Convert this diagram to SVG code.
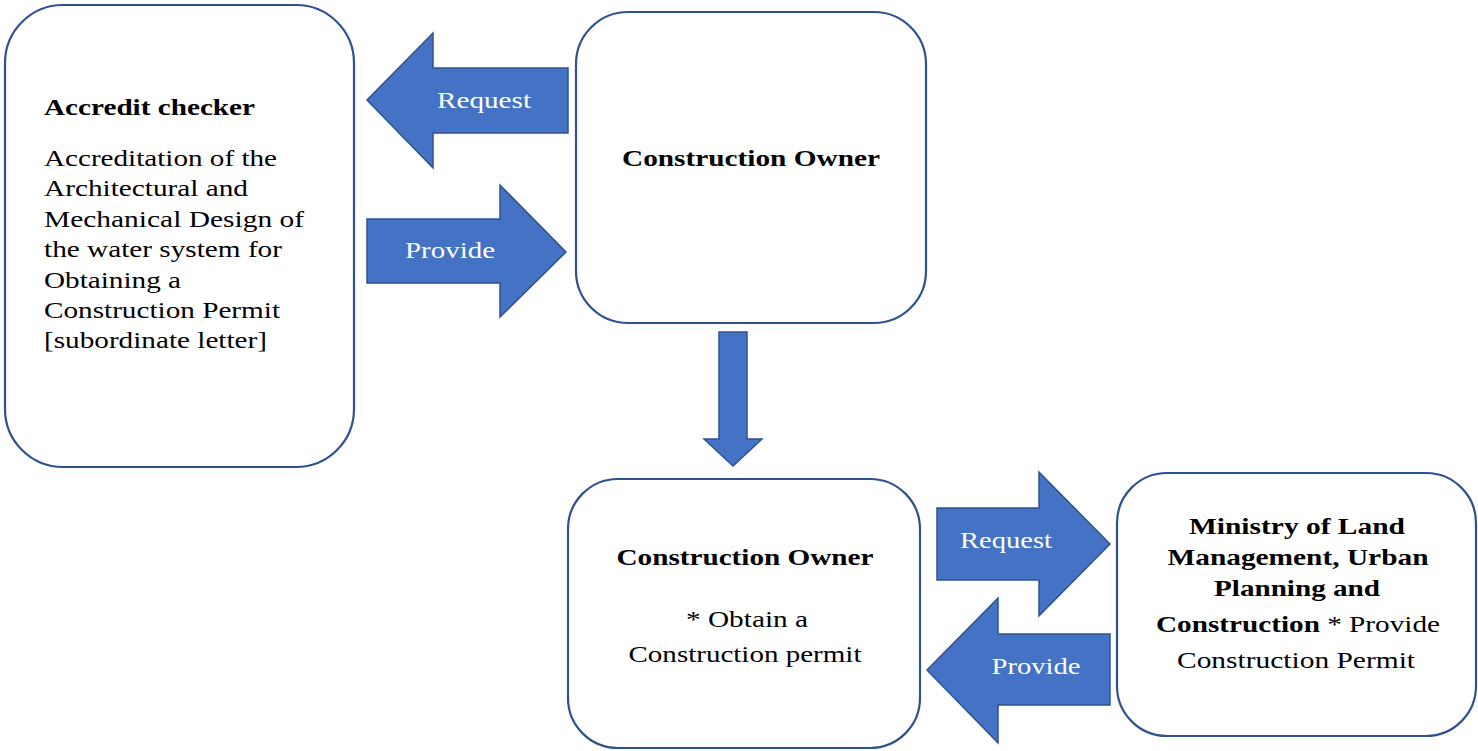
<svg xmlns="http://www.w3.org/2000/svg" width="1478" height="751" viewBox="0 0 1478 751" font-family="Liberation Serif, Tinos, DejaVu Serif, serif">
  <style>
    .box { fill: #ffffff; stroke: #2f528f; stroke-width: 2.2; }
    .arrow { fill: #4472c4; stroke: #2f528f; stroke-width: 1.5; }
    text { font-size: 24px; fill: #000000; }
    .b { font-weight: bold; }
    .w { fill: #ffffff; }
    .c { text-anchor: middle; }
  </style>
  <rect width="1478" height="751" fill="#ffffff"/>

  <!-- block arrows between the parties -->
  <g id="connectors">
    <polygon class="arrow" points="367,100 433,33 433,68 568,68 568,133 433,133 433,168"/>
    <text class="w c" x="484" y="108" textLength="94" lengthAdjust="spacingAndGlyphs">Request</text>

    <polygon class="arrow" points="566,252 500,185 500,219 367,219 367,283 500,283 500,317"/>
    <text class="w c" x="450" y="258" textLength="90" lengthAdjust="spacingAndGlyphs">Provide</text>

    <polygon class="arrow" points="733,466 704,439 719,439 719,332 747,332 747,439 762,439"/>

    <polygon class="arrow" points="1110,544 1039,472 1039,508 937,508 937,580 1039,580 1039,616"/>
    <text class="w c" x="1006" y="548" textLength="92" lengthAdjust="spacingAndGlyphs">Request</text>

    <polygon class="arrow" points="927,670 998,598 998,634 1110,634 1110,705 998,705 998,743"/>
    <text class="w c" x="1036" y="674" textLength="89" lengthAdjust="spacingAndGlyphs">Provide</text>
  </g>

  <g id="accredit-checker" font-family="Liberation Serif, serif">
    <rect class="box" x="5" y="5" width="349" height="462" rx="58" ry="58"/>
    <text class="b" x="44" y="115" textLength="211" lengthAdjust="spacingAndGlyphs">Accredit checker</text>
    <text x="44" y="166" textLength="233" lengthAdjust="spacingAndGlyphs">Accreditation of the</text>
    <text x="44" y="196" textLength="204" lengthAdjust="spacingAndGlyphs">Architectural and</text>
    <text x="44" y="227" textLength="260" lengthAdjust="spacingAndGlyphs">Mechanical Design of</text>
    <text x="44" y="257" textLength="238" lengthAdjust="spacingAndGlyphs">the water system for</text>
    <text x="44" y="288" textLength="137" lengthAdjust="spacingAndGlyphs">Obtaining a</text>
    <text x="44" y="318" textLength="236" lengthAdjust="spacingAndGlyphs">Construction Permit</text>
    <text x="44" y="348" textLength="223" lengthAdjust="spacingAndGlyphs">[subordinate letter]</text>
  </g>

  <g id="construction-owner-top" font-family="Liberation Serif, serif">
    <rect class="box" x="576" y="12" width="350" height="311" rx="52" ry="52"/>
    <text class="b c" x="751" y="166" textLength="258" lengthAdjust="spacingAndGlyphs">Construction Owner</text>
  </g>

  <g id="construction-owner-bottom" font-family="Liberation Serif, serif">
    <rect class="box" x="568" y="479" width="352" height="269" rx="50" ry="50"/>
    <text class="b c" x="745" y="565" textLength="257" lengthAdjust="spacingAndGlyphs">Construction Owner</text>
    <text class="c" x="747" y="627" textLength="122" lengthAdjust="spacingAndGlyphs">* Obtain a</text>
    <text class="c" x="745" y="662" textLength="233" lengthAdjust="spacingAndGlyphs">Construction permit</text>
  </g>

  <g id="ministry" font-family="Liberation Serif, serif">
    <rect class="box" x="1117" y="473" width="359" height="263" rx="50" ry="50"/>
    <text class="b c" x="1297" y="534" textLength="216" lengthAdjust="spacingAndGlyphs">Ministry of Land</text>
    <text class="b c" x="1298" y="565" textLength="261" lengthAdjust="spacingAndGlyphs">Management, Urban</text>
    <text class="b c" x="1297" y="596" textLength="166" lengthAdjust="spacingAndGlyphs">Planning and</text>
    <text class="c" x="1298" y="632" textLength="284" lengthAdjust="spacingAndGlyphs"><tspan class="b">Construction</tspan> * Provide</text>
    <text class="c" x="1296" y="668" textLength="238" lengthAdjust="spacingAndGlyphs">Construction Permit</text>
  </g>
</svg>
